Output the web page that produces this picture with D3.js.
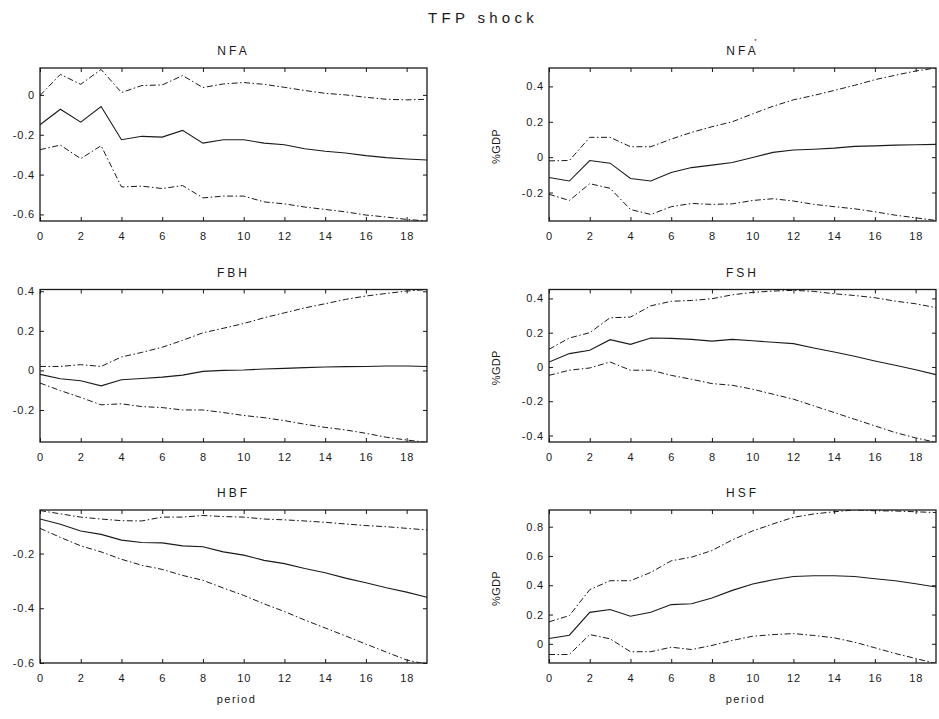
<!DOCTYPE html>
<html>
<head>
<meta charset="utf-8">
<script src="https://cdn.jsdelivr.net/npm/d3@7"></script>
<style>
  html, body { margin: 0; padding: 0; background: #fff; }
  svg { display: block; font-family: "Liberation Sans", Arial, sans-serif; }
</style>
</head>
<body>
<svg id="chart" width="939" height="719"></svg>
<script>
// ---------- data ----------
const periods = d3.range(0, 20);
const xTicks = [0, 2, 4, 6, 8, 10, 12, 14, 16, 18];
const figureTitle = "TFP shock";
const xLabel = "period";
const yLabel = "%GDP";

const panelTitles = ["NFA", "NFA", "FBH", "FSH", "HBF", "HSF"];
const panelSuperscripts = ["", "*", "", "", "", ""];

// NFA
const nfaMid = [-0.150,-0.072,-0.137,-0.058,-0.225,-0.208,-0.212,-0.178,-0.242,-0.225,-0.225,-0.242,-0.250,-0.270,-0.283,-0.292,-0.305,-0.315,-0.322,-0.327];
const nfaUp  = [-0.003,0.103,0.053,0.128,0.012,0.047,0.050,0.097,0.037,0.055,0.062,0.053,0.038,0.022,0.008,0.000,-0.012,-0.022,-0.025,-0.022];
const nfaLo  = [-0.275,-0.252,-0.320,-0.255,-0.462,-0.458,-0.470,-0.455,-0.517,-0.508,-0.508,-0.537,-0.547,-0.563,-0.575,-0.587,-0.603,-0.613,-0.625,-0.633];
// NFA*
const nfasMid = [-0.115,-0.135,-0.019,-0.034,-0.121,-0.135,-0.087,-0.059,-0.045,-0.030,-0.002,0.027,0.040,0.045,0.051,0.061,0.064,0.068,0.070,0.072];
const nfasUp  = [-0.021,-0.019,0.112,0.112,0.059,0.059,0.102,0.140,0.172,0.200,0.245,0.288,0.324,0.349,0.377,0.406,0.438,0.463,0.487,0.504];
const nfasLo  = [-0.210,-0.245,-0.150,-0.176,-0.296,-0.324,-0.280,-0.262,-0.267,-0.264,-0.245,-0.235,-0.248,-0.267,-0.280,-0.292,-0.309,-0.328,-0.343,-0.358];
// FBH
const fbhMid = [-0.020,-0.042,-0.052,-0.078,-0.047,-0.041,-0.034,-0.024,-0.005,0.000,0.002,0.007,0.010,0.014,0.017,0.019,0.020,0.022,0.022,0.020];
const fbhUp  = [0.020,0.020,0.029,0.020,0.068,0.091,0.117,0.152,0.190,0.213,0.237,0.266,0.291,0.316,0.337,0.359,0.376,0.389,0.401,0.409];
const fbhLo  = [-0.064,-0.102,-0.137,-0.174,-0.169,-0.183,-0.188,-0.200,-0.200,-0.213,-0.228,-0.239,-0.254,-0.272,-0.288,-0.301,-0.318,-0.338,-0.352,-0.364];
// FSH
const fshMid = [0.029,0.078,0.097,0.159,0.132,0.169,0.167,0.161,0.151,0.161,0.153,0.144,0.136,0.111,0.087,0.062,0.035,0.010,-0.016,-0.045];
const fshUp  = [0.103,0.169,0.200,0.287,0.291,0.357,0.383,0.388,0.398,0.421,0.435,0.443,0.447,0.441,0.427,0.417,0.404,0.384,0.369,0.346];
const fshLo  = [-0.049,-0.019,-0.006,0.029,-0.019,-0.019,-0.049,-0.072,-0.097,-0.107,-0.130,-0.159,-0.188,-0.227,-0.266,-0.305,-0.344,-0.383,-0.414,-0.440];
// HBF
const hbfMid = [-0.074,-0.093,-0.118,-0.130,-0.151,-0.160,-0.161,-0.172,-0.175,-0.194,-0.206,-0.225,-0.237,-0.255,-0.270,-0.290,-0.307,-0.325,-0.341,-0.360];
const hbfUp  = [-0.043,-0.055,-0.067,-0.074,-0.080,-0.081,-0.067,-0.067,-0.061,-0.065,-0.067,-0.074,-0.077,-0.081,-0.086,-0.092,-0.098,-0.102,-0.108,-0.114];
const hbfLo  = [-0.108,-0.141,-0.172,-0.194,-0.221,-0.243,-0.258,-0.280,-0.298,-0.326,-0.353,-0.384,-0.412,-0.443,-0.472,-0.501,-0.531,-0.560,-0.589,-0.605];
// HSF
const hsfMid = [0.036,0.059,0.215,0.234,0.188,0.215,0.268,0.274,0.313,0.365,0.408,0.438,0.460,0.465,0.465,0.460,0.444,0.431,0.410,0.388];
const hsfUp  = [0.150,0.193,0.370,0.431,0.431,0.488,0.567,0.592,0.637,0.710,0.771,0.819,0.864,0.887,0.902,0.914,0.909,0.907,0.902,0.896];
const hsfLo  = [-0.073,-0.073,0.063,0.034,-0.054,-0.054,-0.023,-0.039,-0.011,0.023,0.052,0.063,0.070,0.057,0.041,0.011,-0.027,-0.066,-0.100,-0.134];

const yDomains = [[-0.633,0.135],[-0.361,0.504],[-0.362,0.409],[-0.438,0.452],[-0.600,-0.041],[-0.131,0.914]];
const yTickValues = [[-0.6,-0.4,-0.2,0],[-0.2,0,0.2,0.4],[-0.2,0,0.2,0.4],[-0.4,-0.2,0,0.2,0.4],[-0.6,-0.4,-0.2],[0,0.2,0.4,0.6,0.8]];
const yTickLabels = [["-0.6","-0.4","-0.2","0"],["-0.2","0","0.2","0.4"],["-0.2","0","0.2","0.4"],["-0.4","-0.2","0","0.2","0.4"],["-0.6","-0.4","-0.2"],["0","0.2","0.4","0.6","0.8"]];
const hasYLabel = [false, true, false, true, false, true];
const hasXLabel = [false, false, false, false, true, true];

const seriesMid = [nfaMid, nfasMid, fbhMid, fshMid, hbfMid, hsfMid];
const seriesUp  = [nfaUp, nfasUp, fbhUp, fshUp, hbfUp, hsfUp];
const seriesLo  = [nfaLo, nfasLo, fbhLo, fshLo, hbfLo, hsfLo];

// ---------- layout ----------
const colX = [[40, 427], [549, 936]];
const rowY = [[68, 221], [289.5, 442], [510, 663]];

const svg = d3.select("#chart");
const ink = "#1a1a1a";

svg.append("text")
  .attr("x", 428).attr("y", 23)
  .attr("font-size", 15).attr("letter-spacing", 4.3)
  .attr("fill", ink)
  .text(figureTitle);

const defs = svg.append("defs");

panelTitles.forEach((title, p) => {
  const col = p % 2, row = Math.floor(p / 2);
  const [x0, x1] = colX[col];
  const [y0, y1] = rowY[row];
  const x = d3.scaleLinear().domain([0, 19]).range([x0, x1]);
  const y = d3.scaleLinear().domain(yDomains[p]).range([y1, y0]);
  const g = svg.append("g");

  defs.append("clipPath").attr("id", "clip" + p)
    .append("rect").attr("x", x0).attr("y", y0).attr("width", x1 - x0).attr("height", y1 - y0);

  const labels = yTickLabels[p];
  const yAxisL = d3.axisLeft(y).tickValues(yTickValues[p])
    .tickSizeInner(-4).tickSizeOuter(0).tickPadding(5)
    .tickFormat((d, i) => labels[i]);
  const yAxisR = d3.axisRight(y).tickValues(yTickValues[p])
    .tickSizeInner(-4).tickSizeOuter(0).tickFormat("");
  const xAxisB = d3.axisBottom(x).tickValues(xTicks)
    .tickSizeInner(-4).tickSizeOuter(0).tickPadding(11).tickFormat(d3.format("d"));
  const xAxisT = d3.axisTop(x).tickValues(xTicks)
    .tickSizeInner(-4).tickSizeOuter(0).tickFormat("");

  const gl = g.append("g").attr("transform", `translate(${x0},0)`).call(yAxisL);
  const gr = g.append("g").attr("transform", `translate(${x1},0)`).call(yAxisR);
  const gb = g.append("g").attr("transform", `translate(0,${y1})`).call(xAxisB);
  const gt = g.append("g").attr("transform", `translate(0,${y0})`).call(xAxisT);
  [gl, gr, gb, gt].forEach(a => {
    a.select(".domain").remove();
    a.selectAll("line").attr("stroke", ink).attr("stroke-width", 1);
    a.selectAll("text").attr("fill", ink).attr("font-size", 11)
      .attr("font-family", "'Liberation Sans', Arial, sans-serif")
      .attr("letter-spacing", 0.8);
  });

  g.append("rect").attr("x", x0).attr("y", y0).attr("width", x1 - x0).attr("height", y1 - y0)
    .attr("fill", "none").attr("stroke", ink).attr("stroke-width", 1.3);

  const line = d3.line().x((d, i) => x(periods[i])).y(d => y(d));
  const lg = g.append("g").attr("clip-path", `url(#clip${p})`);
  lg.append("path").datum(seriesUp[p]).attr("d", line)
    .attr("fill", "none").attr("stroke", ink).attr("stroke-width", 1)
    .attr("stroke-dasharray", "6,2.5,1.5,2.5");
  lg.append("path").datum(seriesLo[p]).attr("d", line)
    .attr("fill", "none").attr("stroke", ink).attr("stroke-width", 1)
    .attr("stroke-dasharray", "6,2.5,1.5,2.5");
  lg.append("path").datum(seriesMid[p]).attr("d", line)
    .attr("fill", "none").attr("stroke", ink).attr("stroke-width", 1.1);

  // panel title
  const cx = (x0 + x1) / 2;
  g.append("text")
    .attr("x", cx).attr("y", y0 - 13)
    .attr("text-anchor", "middle")
    .attr("font-size", 12).attr("letter-spacing", 3)
    .attr("fill", ink)
    .text(title);
  if (panelSuperscripts[p]) {
    g.append("text")
      .attr("x", cx + 13).attr("y", y0 - 25.5)
      .attr("text-anchor", "middle")
      .attr("font-size", 6)
      .attr("fill", ink)
      .text(panelSuperscripts[p]);
  }

  if (hasYLabel[p]) {
    g.append("text")
      .attr("transform", `translate(${x0 - 49},${(y0 + y1) / 2 + 2}) rotate(-90)`)
      .attr("text-anchor", "middle")
      .attr("font-size", 11).attr("letter-spacing", 0.3)
      .attr("fill", ink)
      .text(yLabel);
  }
  if (hasXLabel[p]) {
    g.append("text")
      .attr("x", cx + 3).attr("y", y1 + 40)
      .attr("text-anchor", "middle")
      .attr("font-size", 11).attr("letter-spacing", 1.5)
      .attr("fill", ink)
      .text(xLabel);
  }
});
</script>
</body>
</html>
